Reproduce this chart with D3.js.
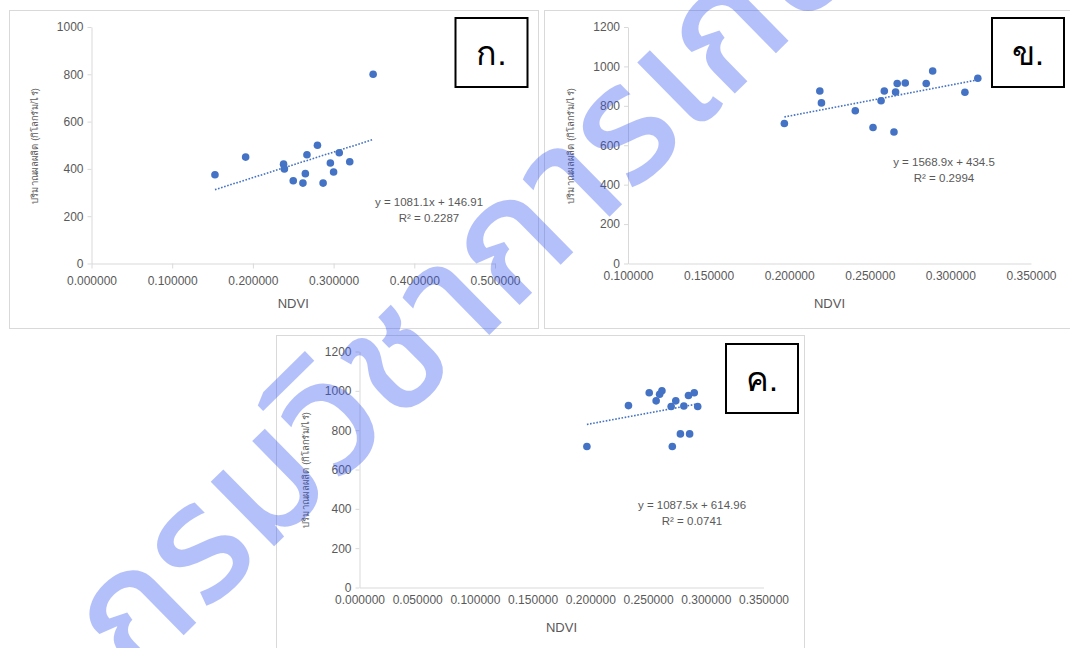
<!DOCTYPE html>
<html>
<head>
<meta charset="utf-8">
<script src="https://cdn.jsdelivr.net/npm/d3@7"></script>
<style>
  body { margin: 0; background: #fff; }
  text { font-family: "Liberation Sans", "Noto Sans", sans-serif; }
</style>
</head>
<body>
<div id="chart"></div>
<script>
var W = 1070, H = 648;

// panel ก.
var ndviA  = [0.153, 0.191, 0.238, 0.239, 0.250, 0.262, 0.265, 0.267, 0.280, 0.287, 0.296, 0.300, 0.307, 0.320, 0.349];
var yieldA = [375, 450, 420, 400, 350, 340, 380, 460, 500, 340, 425, 387, 468, 430, 800];
var xTicksA = [0, 0.1, 0.2, 0.3, 0.4, 0.5];
var yTicksA = [0, 200, 400, 600, 800, 1000];

// panel ข.
var ndviB  = [0.197, 0.219, 0.220, 0.241, 0.252, 0.257, 0.259, 0.265, 0.266, 0.267, 0.272, 0.285, 0.289, 0.309, 0.317];
var yieldB = [710, 875, 815, 775, 690, 826, 875, 667, 870, 913, 916, 913, 977, 869, 940];
var xTicksB = [0.1, 0.15, 0.2, 0.25, 0.3, 0.35];
var yTicksB = [0, 200, 400, 600, 800, 1000, 1200];

// panel ค.
var ndviC  = [0.197, 0.233, 0.251, 0.257, 0.260, 0.262, 0.270, 0.271, 0.274, 0.278, 0.281, 0.285, 0.286, 0.290, 0.293];
var yieldC = [717, 925, 990, 949, 983, 1000, 920, 717, 949, 781, 923, 976, 781, 990, 920];
var xTicksC = [0, 0.05, 0.1, 0.15, 0.2, 0.25, 0.3, 0.35];
var yTicksC = [0, 200, 400, 600, 800, 1000, 1200];

var slopes = [1081.1, 1568.9, 1087.5];
var intercepts = [146.91, 434.5, 614.96];
var r2 = ['0.2287', '0.2994', '0.0741'];
var panelNames = ['ก.', 'ข.', 'ค.'];

var xTitle = 'NDVI';
var yTitle = 'ปริมาณผลผลิต (กิโลกรัม/ไร่)';
var watermark = 'กรมวิชาการเกษตร';

var svg = d3.select('#chart').append('svg')
  .attr('width', W).attr('height', H);

var grey = '#595959', axisCol = '#d9d9d9', dotCol = '#4472c4';

function drawPanel(o) {
  var g = svg.append('g');
  g.append('rect')
    .attr('x', o.fx).attr('y', o.fy).attr('width', o.fw).attr('height', o.fh)
    .attr('fill', '#fff').attr('stroke', axisCol).attr('stroke-width', 1);

  var x = d3.scaleLinear().domain(o.xDom).range([o.x0, o.x1]);
  var y = d3.scaleLinear().domain(o.yDom).range([o.y0, o.y1]);

  var xAxis = d3.axisBottom(x).tickValues(o.xTicks).tickFormat(d3.format('.6f'))
    .tickSize(o.xTickSize).tickSizeOuter(0).tickPadding(8);
  var yAxis = d3.axisLeft(y).tickValues(o.yTicks).tickFormat(d3.format('d'))
    .tickSize(4).tickSizeOuter(0).tickPadding(4);

  var gx = g.append('g').attr('transform', 'translate(0,' + o.y0 + ')').call(xAxis);
  var gy = g.append('g').attr('transform', 'translate(' + o.x0 + ',0)').call(yAxis);
  [gx, gy].forEach(function(a) {
    a.selectAll('path, line').attr('stroke', axisCol);
    a.selectAll('text').attr('fill', grey).attr('font-size', 12);
  });

  g.append('text').text(xTitle)
    .attr('x', (o.x0 + o.x1) / 2).attr('y', o.y0 + 44)
    .attr('text-anchor', 'middle').attr('fill', grey).attr('font-size', 13);

  g.append('text').text(yTitle)
    .attr('transform', 'translate(' + o.ytx + ',' + o.yty + ') rotate(-90)')
    .attr('text-anchor', 'middle').attr('fill', grey).attr('font-size', 9)
    .attr('textLength', 116).attr('lengthAdjust', 'spacingAndGlyphs');

  var xs = o.xs, ys = o.ys;
  var xmin = d3.min(xs), xmax = d3.max(xs);
  var line = d3.line().x(function(d) { return x(d); })
    .y(function(d) { return y(o.slope * d + o.icpt); });
  g.append('path').datum([xmin, xmax])
    .attr('d', line).attr('fill', 'none').attr('stroke', dotCol)
    .attr('stroke-width', 1.6).attr('stroke-dasharray', '1.6,1.6');

  g.selectAll('circle').data(xs).enter().append('circle')
    .attr('cx', function(d) { return x(d); })
    .attr('cy', function(d, i) { return y(ys[i]); })
    .attr('r', 3.8).attr('fill', dotCol);

  g.append('text').text('y = ' + o.slope + 'x + ' + o.icpt)
    .attr('x', o.ex).attr('y', o.ey).attr('text-anchor', 'middle')
    .attr('fill', grey).attr('font-size', 11.5);
  g.append('text').text('R² = ' + o.r2)
    .attr('x', o.ex).attr('y', o.ey + 16).attr('text-anchor', 'middle')
    .attr('fill', grey).attr('font-size', 11.5);

  g.append('rect')
    .attr('x', o.bx).attr('y', o.by).attr('width', 72).attr('height', 69)
    .attr('fill', '#fff').attr('stroke', '#000').attr('stroke-width', 2);
  g.append('text').text(o.name)
    .attr('x', o.bx + 36).attr('y', o.by + 47).attr('text-anchor', 'middle')
    .attr('fill', '#000').attr('font-size', 34).attr('font-weight', 300);
}

drawPanel({
  fx: 9.5, fy: 10.5, fw: 529, fh: 318,
  x0: 91.5, x1: 495, y0: 263.5, y1: 27, xDom: [0, 0.5], yDom: [0, 1000],
  xTicks: xTicksA, yTicks: yTicksA, xTickSize: 5,
  ytx: 38, yty: 146,
  xs: ndviA, ys: yieldA, slope: slopes[0], icpt: intercepts[0], r2: r2[0],
  ex: 429, ey: 206, bx: 455.5, by: 18, name: panelNames[0]
});

drawPanel({
  fx: 544.5, fy: 10.5, fw: 530, fh: 318,
  x0: 628, x1: 1031, y0: 263.5, y1: 27, xDom: [0.1, 0.35], yDom: [0, 1200],
  xTicks: xTicksB, yTicks: yTicksB, xTickSize: 0,
  ytx: 574, yty: 146,
  xs: ndviB, ys: yieldB, slope: slopes[1], icpt: intercepts[1], r2: r2[1],
  ex: 944, ey: 166, bx: 992, by: 18, name: panelNames[1]
});

drawPanel({
  fx: 276.5, fy: 335.5, fw: 528, fh: 330,
  x0: 359.5, x1: 763.5, y0: 587.5, y1: 351.5, xDom: [0, 0.35], yDom: [0, 1200],
  xTicks: xTicksC, yTicks: yTicksC, xTickSize: 0,
  ytx: 309, yty: 470,
  xs: ndviC, ys: yieldC, slope: slopes[2], icpt: intercepts[2], r2: r2[2],
  ex: 692, ey: 509, bx: 726, by: 344, name: panelNames[2]
});

// watermark
svg.append('text').text(watermark)
  .attr('transform', 'translate(134,684) rotate(-44.5)')
  .attr('font-size', 165).attr('font-weight', 500)
  .attr('fill', 'rgb(60,90,240)').attr('fill-opacity', 0.385)
  .style('font-family', '"Noto Sans Thai", "Noto Sans", sans-serif');
</script>
</body>
</html>
